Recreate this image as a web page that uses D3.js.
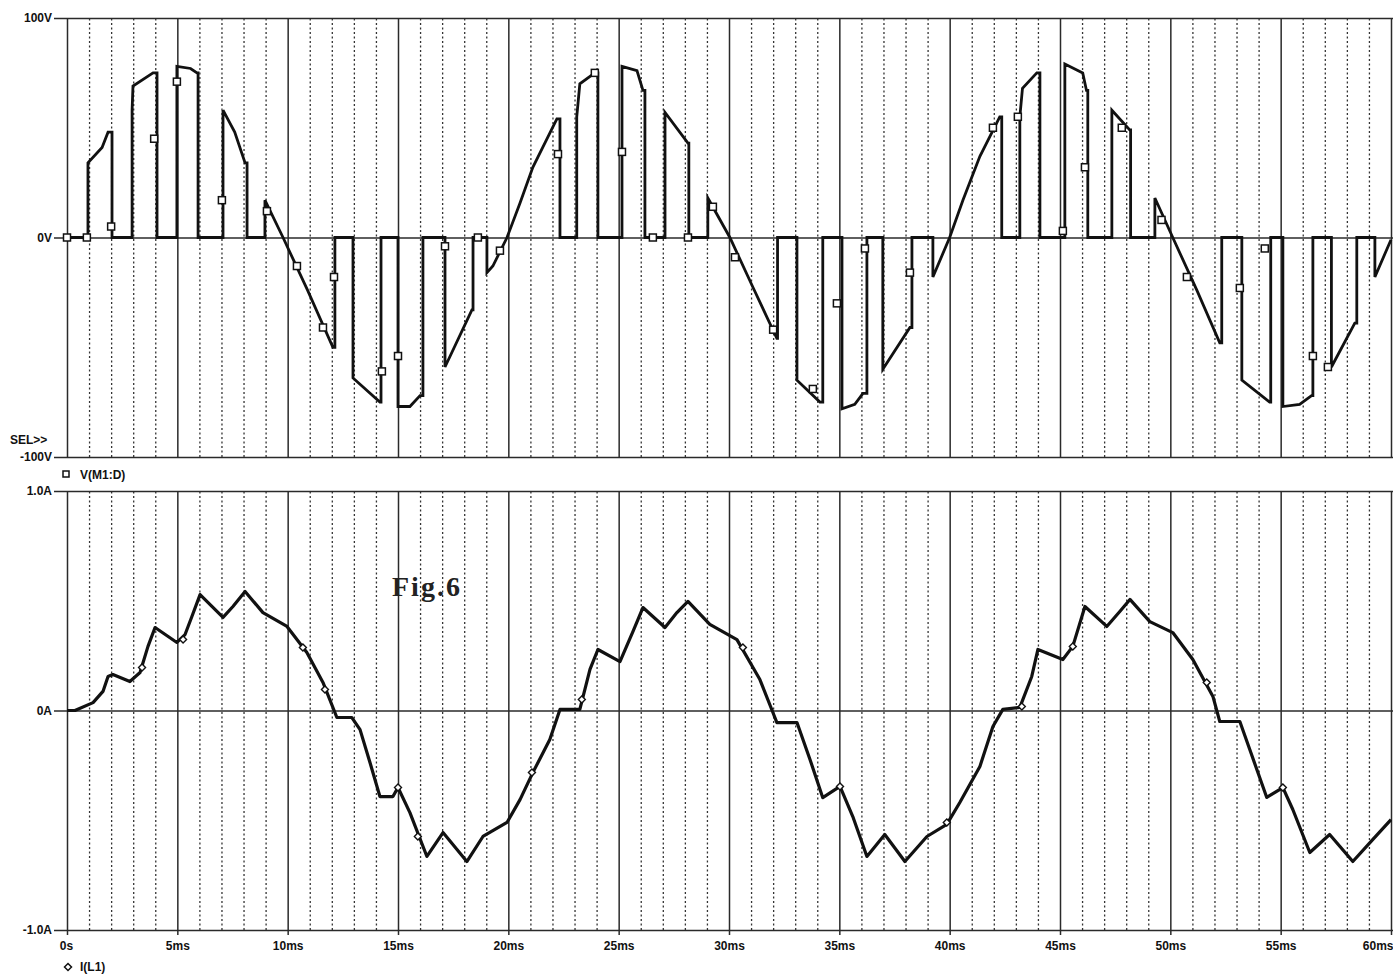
<!doctype html>
<meta charset="utf-8">
<style>
    body { margin: 0; background: #fff; }
    svg { display: block; }
    .lbl { font-family: "Liberation Sans", Arial, sans-serif; font-size: 12px; font-weight: bold; fill: #111; }
    .axis .domain { display: none; }
    .axis text { font-family: "Liberation Sans", Arial, sans-serif; font-size: 12px; font-weight: bold; fill: #111; }
</style>
<body>
<script src="https://d3js.org/d3.v7.min.js"></script>
<script>
    // time axis (ms) and tick labels
    const xMajor = [0, 5, 10, 15, 20, 25, 30, 35, 40, 45, 50, 55, 60];
    const xLabels = ['0s', '5ms', '10ms', '15ms', '20ms', '25ms', '30ms', '35ms', '40ms', '45ms', '50ms', '55ms', '60ms'];
    const xMinor = [1, 2, 3, 4, 6, 7, 8, 9, 11, 12, 13, 14, 16, 17, 18, 19, 21, 22, 23, 24, 26, 27, 28, 29,
        31, 32, 33, 34, 36, 37, 38, 39, 41, 42, 43, 44, 46, 47, 48, 49, 51, 52, 53, 54, 56, 57, 58, 59];
    const vTicks = [-100, 0, 100];
    const vLabels = ['-100V', '0V', '100V'];
    const iTicks = [-1, 0, 1];
    const iLabels = ['-1.0A', '0A', '1.0A'];

    // V(M1:D) [ms, V]
    const vTrace = [[0,0],[0.95,0],[0.95,34],[1.59,41],[1.86,48],[2.04,48],[2.04,0],[2.95,0],[2.95,58],[2.99,69],[3.9,75],[4.08,75],[4.08,0],
        [4.98,0],[4.98,78],[5.6,77],[5.89,75],[5.94,75],[5.94,0],[7.07,0],[7.07,58],[7.6,48],[8.07,34],[8.16,34],[8.16,0],
        [8.97,0],[8.97,17],[9.79,0],[10.9,-24],[12.05,-50],[12.14,-50],[12.14,0],[12.96,0],[12.96,-64],[14.18,-75],[14.23,-75],[14.23,0],
        [15.0,0],[15.0,-77],[15.54,-77],[16.0,-72],[16.13,-72],[16.13,0],[17.13,0],[17.13,-59],[18.35,-33],[18.4,-33],[18.4,0],
        [19.03,0],[19.03,-16],[19.3,-13],[19.94,0],[20.53,15.7],[21.11,32],[22.2,54],[22.34,54],[22.34,0],[23.1,0],[23.1,55],[23.24,70],
        [23.92,75],[24.06,75],[24.06,0],[25.15,0],[25.15,78],[25.83,76],[26.1,67],[26.19,67],[26.19,0],[27.1,0],[27.1,57],[28.14,43],
        [28.18,43],[28.18,0],[29.04,0],[29.04,18],[30.04,0],[31.1,-23],[32.17,-46],[32.2,-46],[32.2,0],[33.08,0],[33.08,-65],[34.12,-75],
        [34.25,-75],[34.25,0],[35.12,0],[35.12,-78],[35.7,-76],[36.07,-71],[36.25,-71],[36.25,0],[36.97,0],[36.97,-60],[38.2,-41],
        [38.29,-41],[38.29,0],[39.24,0],[39.24,-18],[40.0,0],[40.6,17],[41.37,37],[42.27,55],[42.36,55],[42.36,0],[43.18,0],[43.18,55],
        [43.3,68],[43.95,75],[44.09,75],[44.09,0],[45.22,0],[45.22,79],[46.03,75],[46.2,67],[46.26,67],[46.26,0],[47.35,0],[47.35,58],
        [48.16,49],[48.2,49],[48.2,0],[49.3,0],[49.3,18],[50.11,0],[51.2,-24],[52.24,-48],[52.33,-48],[52.33,0],[53.24,0],[53.24,-65],
        [54.5,-75],[54.55,-75],[54.55,0],[55.1,0],[55.1,-77],[55.86,-76],[56.4,-72],[56.46,-72],[56.46,0],[57.3,0],[57.3,-59],
        [58.36,-39],[58.45,-39],[58.45,0],[59.27,0],[59.27,-18],[60,-1]];
    const vMarkers = [[0,0],[0.9,0],[2.0,5],[3.95,45],[4.98,71],[7.02,17],[9.06,12],[10.42,-13],[11.6,-41],[12.1,-18],[14.27,-61],
        [15.0,-54],[17.13,-4],[18.62,0],[19.62,-6],[22.25,38],[23.92,75],[25.15,39],[26.55,0],[28.14,0],[29.27,14],[30.27,-9],
        [32.0,-42],[33.8,-69],[34.89,-30],[36.16,-5],[38.2,-16],[41.96,50],[43.09,55],[45.13,3],[46.13,32],[47.8,50],[49.6,8],
        [50.75,-18],[53.15,-23],[54.28,-5],[56.46,-54],[57.14,-59]];

    // I(L1) [ms, A]
    const iTrace = [[0,0],[0.36,0],[1.18,0.036],[1.63,0.087],[1.86,0.155],[2.08,0.164],[2.85,0.132],[3.31,0.173],[3.67,0.292],
        [3.99,0.378],[4.98,0.31],[5.35,0.346],[5.66,0.428],[6.03,0.528],[7.07,0.424],[7.52,0.474],[8.07,0.542],[8.88,0.446],
        [9.97,0.383],[10.87,0.264],[11.6,0.128],[12.23,-0.032],[12.91,-0.032],[13.28,-0.087],[13.73,-0.237],[14.18,-0.392],
        [14.77,-0.392],[15.0,-0.351],[15.54,-0.465],[16.31,-0.665],[17.04,-0.556],[18.12,-0.688],[18.85,-0.574],[19.94,-0.51],
        [20.53,-0.406],[21.11,-0.283],[21.88,-0.132],[22.34,0.005],[23.24,0.005],[23.7,0.187],[24.06,0.278],[25.06,0.223],
        [25.65,0.36],[26.1,0.469],[27.1,0.378],[27.64,0.446],[28.14,0.497],[29.13,0.392],[30.36,0.323],[31.4,0.141],[31.99,-0.009],
        [32.17,-0.055],[33.08,-0.055],[33.67,-0.223],[34.25,-0.397],[35.03,-0.346],[35.61,-0.483],[36.25,-0.665],[37.06,-0.565],
        [37.97,-0.688],[38.97,-0.574],[39.87,-0.519],[40.46,-0.419],[41.37,-0.255],[41.96,-0.073],[42.41,0.005],[43.18,0.014],
        [43.72,0.155],[44.0,0.278],[45.13,0.232],[45.58,0.292],[46.13,0.474],[47.12,0.383],[47.71,0.451],[48.17,0.506],[49.07,0.405],
        [50.11,0.355],[51.02,0.232],[51.93,0.064],[52.24,-0.05],[53.15,-0.05],[53.6,-0.178],[54.37,-0.396],[55.1,-0.351],
        [55.55,-0.451],[56.32,-0.647],[57.22,-0.565],[58.27,-0.688],[59.17,-0.588],[60,-0.497]];
    const iMarkers = [[3.4,0.196],[5.26,0.323],[10.69,0.287],[11.69,0.096],[15.0,-0.351],[15.9,-0.574],[21.07,-0.282],[23.33,0.05],
        [30.63,0.287],[35.03,-0.346],[39.87,-0.51],[43.27,0.018],[45.58,0.292],[51.65,0.128],[55.1,-0.351]];

    const W = 1393, H = 975;
    const left = 67, right = 1391;
    const top1 = 18, bot1 = 457, top2 = 491, bot2 = 930;

    const x = d3.scaleLinear().domain([0, 60]).range([left, right]);
    const yV = d3.scaleLinear().domain([-100, 100]).range([bot1, top1]);
    const yI = d3.scaleLinear().domain([-1, 1]).range([bot2, top2]);

    const svg = d3.select('body').append('svg').attr('width', W).attr('height', H);

    function panel(y, top, bot, ticks, labels) {
        const g = svg.append('g');
        // dotted 1ms lines
        g.append('g').attr('class', 'axis')
            .attr('transform', `translate(0, ${bot})`)
            .call(d3.axisBottom(x).tickValues(xMinor).tickSize(-(bot - top)).tickFormat(''))
            .selectAll('line').attr('stroke', '#333').attr('stroke-width', 1.3).attr('stroke-dasharray', '2,2.5');
        // solid 5ms lines
        g.append('g').attr('class', 'axis')
            .attr('transform', `translate(0, ${bot})`)
            .call(d3.axisBottom(x).tickValues(xMajor).tickSize(-(bot - top)).tickFormat(''))
            .selectAll('line').attr('stroke', '#2a2a2a').attr('stroke-width', 1.5);
        // horizontal lines with labels
        g.append('g').attr('class', 'axis')
            .attr('transform', `translate(${left - 13}, 0)`)
            .call(d3.axisLeft(y).tickValues(ticks).tickSize(-(right - left + 20)).tickPadding(2)
                .tickFormat((d, i) => labels[i]))
            .selectAll('line').attr('stroke', '#2a2a2a').attr('stroke-width', 1.5);
        return g;
    }

    panel(yV, top1, bot1, vTicks, vLabels);
    panel(yI, top2, bot2, iTicks, iLabels);

    // x axis labels
    svg.append('g').attr('class', 'axis')
        .attr('transform', `translate(0, ${bot2})`)
        .call(d3.axisBottom(x).tickValues(xMajor).tickSize(5).tickPadding(6).tickFormat((d, i) => xLabels[i]))
        .call(g => g.selectAll('line').attr('stroke', '#2a2a2a').attr('stroke-width', 1.5))
        .call(g => g.selectAll('text').filter(d => d === 60).attr('text-anchor', 'end').attr('dx', 2))
        .call(g => g.selectAll('text').filter(d => d === 0).attr('dx', -1));

    // traces
    const lineV = d3.line().x(d => x(d[0])).y(d => yV(d[1]));
    const lineI = d3.line().x(d => x(d[0])).y(d => yI(d[1]));

    svg.append('path').datum(vTrace).attr('d', lineV)
        .attr('fill', 'none').attr('stroke', '#111').attr('stroke-width', 2.8).attr('stroke-linejoin', 'miter');
    svg.append('path').datum(iTrace).attr('d', lineI)
        .attr('fill', 'none').attr('stroke', '#111').attr('stroke-width', 3.2).attr('stroke-linejoin', 'round');

    svg.selectAll('.vm').data(vMarkers).enter().append('rect')
        .attr('x', d => x(d[0]) - 3.5).attr('y', d => yV(d[1]) - 3.5)
        .attr('width', 7).attr('height', 7)
        .attr('fill', '#fff').attr('stroke', '#111').attr('stroke-width', 1.5);

    svg.selectAll('.im').data(iMarkers).enter().append('path')
        .attr('transform', d => `translate(${x(d[0])}, ${yI(d[1])})`)
        .attr('d', 'M0,-3.5L3.5,0L0,3.5L-3.5,0Z')
        .attr('fill', '#fff').attr('stroke', '#111').attr('stroke-width', 1.4);

    // texts
    svg.append('text').attr('class', 'lbl').attr('x', 10).attr('y', 444).text('SEL>>');
    svg.append('rect').attr('x', 63).attr('y', 471).attr('width', 6).attr('height', 6)
        .attr('fill', 'none').attr('stroke', '#111').attr('stroke-width', 1.5);
    svg.append('text').attr('class', 'lbl').attr('x', 80).attr('y', 479).text('V(M1:D)');
    svg.append('path').attr('transform', 'translate(68, 967)').attr('d', 'M0,-3.5L3.5,0L0,3.5L-3.5,0Z')
        .attr('fill', 'none').attr('stroke', '#111').attr('stroke-width', 1.5);
    svg.append('text').attr('class', 'lbl').attr('x', 80).attr('y', 971).text('I(L1)');

    svg.append('text').attr('x', 392).attr('y', 596)
        .style('font-family', '"Liberation Serif", "Times New Roman", serif')
        .style('font-size', '28px').style('font-weight', 'bold').style('letter-spacing', '2px').attr('fill', '#222')
        .text('Fig.6');
</script>
